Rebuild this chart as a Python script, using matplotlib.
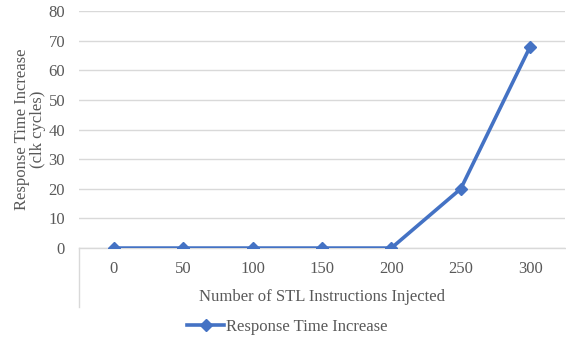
import numpy as np
import matplotlib.pyplot as plt
from matplotlib.lines import Line2D

plt.rcParams['font.family'] = ['Liberation Serif', 'DejaVu Serif']

# number of STL instructions injected vs. response time increase
categories = ['0', '50', '100', '150', '200', '250', '300']
response_increase = [0, 0, 0, 0, 0, 20, 68]
y_ticks = [0, 10, 20, 30, 40, 50, 60, 70, 80]

text_color = '#595959'
grid_color = '#D9D9D9'
line_color = '#4472C4'
fs = 12

fig = plt.figure(figsize=(5.66, 3.45), dpi=100)
ax = fig.add_axes([0.1396, 0.281, 0.8584, 0.687])

x = np.arange(len(categories))
ax.plot(x, response_increase, color=line_color, linewidth=2.6,
        marker='D', markersize=6.5, label='Response Time Increase', zorder=3)

ax.set_xlim(-0.5, len(categories) - 0.5)
ax.set_ylim(0, 80)
ax.set_yticks(y_ticks)
ax.set_xticks(x)
ax.set_xticklabels(categories)
ax.yaxis.grid(True, color=grid_color, linewidth=1.0)
ax.set_axisbelow(True)

for side in ['top', 'right', 'left']:
    ax.spines[side].set_visible(False)
ax.spines['bottom'].set_color(grid_color)
ax.spines['bottom'].set_linewidth(1.0)

ax.tick_params(axis='both', length=0, labelsize=fs, colors=text_color)
ax.tick_params(axis='x', pad=9)
ax.tick_params(axis='y', pad=10)

# vertical divider on the left of the category axis
ax.add_line(Line2D([0, 0], [0, -0.25], transform=ax.transAxes,
                   color=grid_color, linewidth=1.0, clip_on=False))

ax.set_xlabel('Number of STL Instructions Injected', fontsize=fs,
              color=text_color, labelpad=9)
ax.set_ylabel('Response Time Increase\n(clk cycles)', fontsize=fs,
              color=text_color, labelpad=2, linespacing=1.0)

fig.legend(loc='center', bbox_to_anchor=(0.508, 0.052), frameon=False,
           fontsize=fs, labelcolor=text_color, handlelength=2.2,
           handletextpad=0.15)

fig.savefig('out.png', dpi=100)
